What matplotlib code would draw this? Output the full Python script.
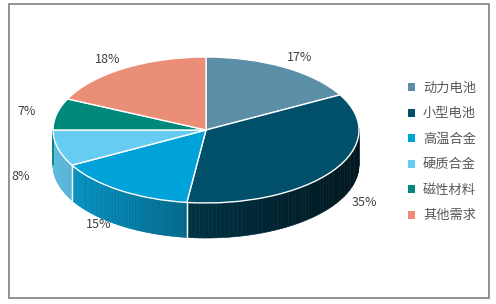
import matplotlib.pyplot as plt
import numpy as np
from matplotlib.patches import Polygon, Rectangle

plt.rcParams['font.family'] = ['Noto Sans CJK SC', 'DejaVu Sans']

labels = ['动力电池', '小型电池', '高温合金', '硬质合金', '磁性材料', '其他需求']
values = [17, 35, 15, 8, 7, 18]
colors = ['#5B8FA8', '#004F6B', '#00A2DA', '#66CCF2', '#00887A', '#EB8E78']

depth = 0.48  # thickness of the pie in data units

fig = plt.figure(figsize=(4.96, 3.04), dpi=100)
fig.patches.append(Rectangle((9 / 496, 1 - 298 / 304), 480 / 496, 294 / 304,
                             transform=fig.transFigure, fill=False,
                             edgecolor='#808080', lw=1.2))

ax = fig.add_axes([0, 0, 1, 1])
wedges, _ = ax.pie(values, colors=colors, startangle=90, counterclock=False,
                   wedgeprops=dict(edgecolor='white', linewidth=1.0),
                   radius=1.0, center=(0, 0))
for w in wedges:
    w.set_zorder(5)

# side walls, drawn in thin strips for a shading gradient
for w, col in zip(wedges, colors):
    t1, t2 = w.theta1, w.theta2
    a = np.radians(np.linspace(t1, t2, 80))
    base = np.array(plt.matplotlib.colors.to_rgb(col))
    for i in range(len(a) - 1):
        s0, s1 = a[i], a[i + 1]
        if np.sin(s0) > 0.01 and np.sin(s1) > 0.01:
            continue
        x0, x1 = np.cos(s0), np.cos(s1)
        y0, y1 = np.sin(s0), np.sin(s1)
        f = 0.6 - 0.32 * (x0 + x1) / 2
        c = np.clip(base * f, 0, 1)
        poly = Polygon([(x0, y0), (x1, y1), (x1, y1 - depth), (x0, y0 - depth)],
                       closed=True, facecolor=c, edgecolor=c, lw=0.4, zorder=2)
        ax.add_patch(poly)
    # white edge line at wedge boundary on the front
    for t in (t1, t2):
        r = np.radians(t)
        if np.sin(r) < -0.05:
            ax.plot([np.cos(r), np.cos(r)], [np.sin(r), np.sin(r) - depth],
                    color='white', lw=0.9, zorder=3)

# percentage labels
for w, v in zip(wedges, values):
    m = np.radians((w.theta1 + w.theta2) / 2)
    x, y = 1.2 * np.cos(m), 1.15 * np.sin(m)
    if np.sin(m) < 0:
        x = 1.25 * np.cos(m)
        y -= depth * 0.72
    ax.text(x, y, f'{v}%', ha='center', va='center', fontsize=9,
            color='#404040', zorder=6)

ax.set_xlim(-1.3464, 1.8954)
ax.set_ylim(-2.3836, 1.7808)
ax.set_aspect('auto')
ax.axis('off')

handles = [Rectangle((0, 0), 1, 1, facecolor=c) for c in colors]
leg = fig.legend(handles, labels, loc='center left',
                 bbox_to_anchor=(396 / 496, 1 - 152 / 304),
                 frameon=False, fontsize=9.5, handlelength=0.55,
                 handleheight=0.55, handletextpad=0.6, labelspacing=0.95)
for t in leg.get_texts():
    t.set_color('#595959')

fig.savefig('out.png', dpi=100)
